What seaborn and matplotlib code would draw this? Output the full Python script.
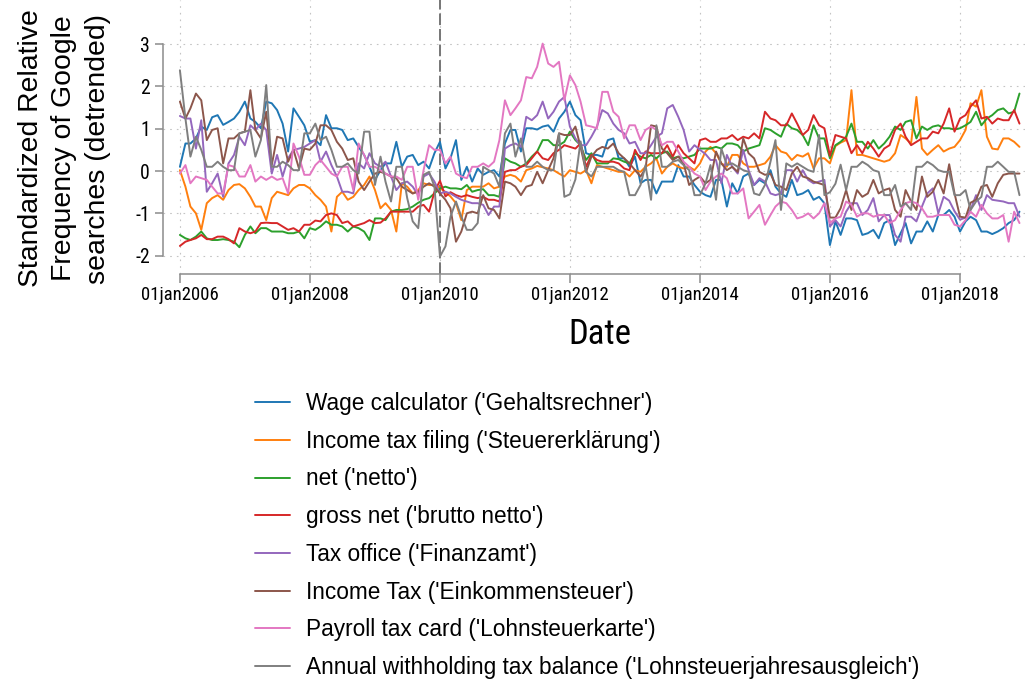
import numpy as np
import pandas as pd
import matplotlib
matplotlib.use("Agg")
import matplotlib.pyplot as plt
import matplotlib.dates as mdates
from matplotlib import font_manager
from matplotlib.font_manager import FontProperties
from matplotlib.textpath import TextPath
import seaborn as sns

# ---------------- data (monthly, Jan 2006 - Dec 2018) ----------------
start_month = "2006-01-01"

wage_calculator = [
    0.10, 0.65, 0.65, 0.77, 1.05, 0.97, 1.27, 1.32, 1.09, 1.16, 1.24, 1.40, 1.64, 1.24, 1.16, 1.01, 1.64, 1.60, 1.44, 1.12, 0.46, 1.48, 1.28, 1.08, 0.69, 0.73,
    0.61, 1.32, 1.01, 1.01, 0.97, 0.73, 0.77, 0.57, 0.38, 0.10, -0.21, 0.02, 0.18, 0.18, 0.69, 0.10, 0.34, 0.38, 0.14, 0.22, 0.06, 0.42, 0.69, 0.06, 0.30,
    0.73, -0.21, 0.10, -0.25, 0.06, -0.09, -0.02, 0.02, -0.13, 0.65, 0.97, 0.97, 0.46, 1.01, 1.01, 0.98, 1.05, 1.08, 0.93, 1.24, 1.40, 1.64, 1.32, 1.20,
    0.42, 0.38, 0.38, 0.34, 0.73, 0.77, 0.30, 0.30, 0.10, 0.34, -0.29, -0.21, -0.21, -0.53, -0.25, -0.25, -0.25, 0.14, -0.13, -0.13, -0.33, -0.49, -0.57, -0.61,
    -0.21, -0.21, -0.84, -0.29, -0.53, -0.13, -0.06, -0.33, -0.21, -0.29, 0.02, -0.37, -0.53, -0.61, -0.21, -0.57, -0.53, -0.45, -0.68, -0.61, -0.76, -1.75, -1.19, -1.51,
    -1.12, -1.12, -1.16, -1.51, -1.47, -1.39, -1.59, -1.23, -1.16, -1.75, -1.47, -1.23, -1.71, -1.43, -1.43, -1.19, -1.43, -1.04, -1.04, -0.92, -1.08, -1.43, -1.19, -1.08,
    -1.16, -1.43, -1.43, -1.49, -1.43, -1.35, -1.23, -1.16, -0.96,
]
income_tax_filing = [
    0.02, -0.37, -0.84, -1.00, -1.39, -0.76, -0.64, -0.57, -0.68, -0.45, -0.33, -0.31, -0.41, -0.61, -0.84, -0.84, -1.16, -0.64, -0.49, -0.53, -0.57, -0.41, -0.33, -0.33, -0.41, -0.57,
    -0.68, -0.84, -1.43, -0.61, -0.49, -0.68, -0.61, -0.45, -0.33, -0.13, -0.45, -0.88, -0.76, -0.92, -1.43, -0.29, -0.37, -0.53, -0.45, -0.29, -0.33, -0.33, -0.40, -0.50, -0.60,
    -0.76, -1.16, -0.45, -0.37, -0.37, -0.37, -0.29, -0.41, -0.37, -0.13, -0.09, -0.13, -0.25, 0.02, 0.06, 0.12, 0.09, 0.06, 0.02, -0.06, -0.13, 0.02, -0.02, -0.06,
    0.02, -0.29, 0.14, 0.10, 0.06, 0.02, -0.02, -0.02, -0.13, 0.02, -0.02, 0.10, 0.18, 0.30, -0.06, 0.10, 0.18, 0.10, 0.06, 0.10, 0.02, 0.18, 0.46, 0.57,
    0.42, 0.18, 0.10, 0.38, 0.38, 0.18, 0.10, 0.10, 0.14, 0.18, 0.34, 0.61, 0.46, 0.42, 0.26, 0.38, 0.34, 0.42, 0.06, 0.30, 0.30, 0.18, 0.59, 0.67,
    0.73, 1.91, 0.38, 0.38, 0.34, 0.30, 0.26, 0.22, 0.26, 0.42, 0.85, 0.77, 0.65, 1.75, 0.53, 0.38, 0.50, 0.61, 0.46, 0.53, 0.57, 0.73, 0.97, 1.60,
    1.52, 1.91, 0.81, 0.53, 0.51, 0.77, 0.77, 0.69, 0.57,
]
net = [
    -1.51, -1.59, -1.63, -1.55, -1.43, -1.59, -1.63, -1.63, -1.61, -1.63, -1.67, -1.80, -1.51, -1.31, -1.47, -1.35, -1.35, -1.43, -1.43, -1.43, -1.47, -1.47, -1.43, -1.59, -1.35, -1.39,
    -1.31, -1.19, -1.27, -1.27, -1.31, -1.43, -1.31, -1.35, -1.43, -1.63, -1.12, -1.12, -1.16, -0.96, -0.92, -0.92, -0.90, -0.84, -0.75, -0.68, -0.64, -0.53, -0.41, -0.37, -0.41,
    -0.41, -0.43, -0.33, -0.49, -0.45, -0.43, -0.57, -0.57, -0.61, 0.30, 0.22, 0.18, 0.10, 0.18, 0.34, 0.46, 0.73, 0.73, 0.61, 0.61, 0.69, 0.93, 0.73, 0.61,
    0.26, 0.42, 0.18, 0.18, 0.18, 0.30, 0.28, 0.22, 0.18, 0.42, 0.34, 0.30, 0.38, 0.30, 0.42, 0.46, 0.30, 0.34, 0.30, 0.34, 0.38, 0.53, 0.53, 0.53,
    0.57, 0.53, 0.65, 0.65, 0.61, 0.46, 0.53, 0.57, 0.61, 1.01, 0.97, 0.89, 0.81, 1.12, 1.01, 0.97, 0.85, 0.61, 1.08, 0.77, 0.77, 0.30, 0.61, 0.69,
    0.81, 1.12, 0.69, 0.69, 0.53, 0.73, 0.53, 0.65, 0.81, 1.05, 0.97, 1.16, 1.20, 0.77, 1.05, 0.97, 1.05, 1.08, 1.01, 1.01, 0.98, 1.01, 1.08, 1.16,
    1.40, 1.08, 1.24, 1.32, 1.44, 1.48, 1.36, 1.40, 1.83,
]
gross_net = [
    -1.77, -1.67, -1.63, -1.59, -1.51, -1.61, -1.61, -1.55, -1.55, -1.61, -1.71, -1.35, -1.43, -1.47, -1.43, -1.23, -1.22, -1.23, -1.23, -1.31, -1.39, -1.35, -1.43, -1.27, -1.27, -1.17,
    -1.19, -1.04, -1.00, -1.04, -1.23, -1.19, -1.31, -1.27, -1.23, -1.16, -1.23, -1.22, -1.12, -0.96, -0.96, -0.96, -0.96, -0.96, -0.84, -0.80, -0.96, -0.49, -0.23, -0.60, -0.50,
    -0.57, -0.61, -0.57, -0.61, -0.64, -0.61, -0.68, -0.68, -0.72, -0.02, 0.02, 0.02, 0.10, 0.14, 0.30, 0.46, 0.30, 0.26, 0.42, 0.50, 0.61, 0.57, 0.53, 0.65,
    0.10, 0.38, 0.26, 0.22, 0.22, 0.22, 0.18, 0.06, 0.02, 0.50, 0.26, 0.46, 0.42, 0.42, 0.42, 0.61, 0.34, 0.61, 0.42, 0.30, 0.18, 0.73, 0.77, 0.69,
    0.69, 0.77, 0.77, 0.85, 0.73, 0.81, 0.77, 0.89, 0.77, 1.40, 1.24, 1.20, 1.08, 1.08, 1.36, 1.12, 0.85, 0.97, 1.32, 1.08, 1.01, 0.36, 0.85, 0.81,
    0.77, 0.42, 0.61, 0.42, 0.69, 0.53, 0.34, 0.53, 0.61, 0.97, 1.12, 0.81, 0.61, 0.69, 0.77, 0.77, 0.93, 0.89, 1.12, 1.48, 0.93, 1.24, 1.32, 1.52,
    1.67, 1.24, 1.28, 1.12, 1.24, 1.20, 1.20, 1.44, 1.12,
]
tax_office = [
    1.30, 1.24, 1.24, 0.53, 1.20, -0.49, -0.29, -0.06, -0.61, 0.18, 0.38, 0.81, 0.61, 1.08, 0.97, 1.12, 0.97, -0.06, 0.38, -0.13, 0.30, 0.50, 0.53, 0.57, 0.65, 0.73,
    0.22, 0.46, 0.14, -0.13, -0.49, -0.49, -0.53, 0.18, 0.06, 0.42, 0.18, 0.10, 0.22, -0.13, -0.45, -0.29, -0.25, -0.37, -0.57, -0.13, -0.06, -0.25, -0.53, -0.49, -0.53,
    -0.61, -0.68, -0.72, -0.76, -0.76, -0.80, -1.04, -0.84, -0.84, 0.53, 0.61, 0.65, 0.57, 1.28, 1.20, 1.32, 1.64, 1.24, 1.40, 1.64, 1.75, 1.05, 0.77, 0.61,
    0.61, 0.81, 1.05, 1.44, 1.36, 1.12, 0.97, 0.89, 0.65, 0.69, 0.42, 0.42, 0.61, 0.81, 0.89, 1.48, 1.56, 1.28, 0.97, 0.46, 0.61, 0.50, 0.40, 0.26,
    0.26, -0.29, 0.38, 0.10, -0.06, 0.50, 0.02, -0.33, -0.17, -0.25, -0.53, -0.57, -0.53, 0.02, 0.02, -0.25, 0.02, -0.21, -0.29, -0.25, -0.21, -1.31, -1.16, -1.31,
    -0.96, -0.76, -0.76, -1.04, -0.92, -0.64, -1.19, -1.04, -1.04, -1.51, -1.67, -1.08, -1.08, -1.19, -0.84, -0.53, -0.41, -1.00, -0.61, -0.70, -0.95, -1.15, -1.10, -0.92,
    -0.57, -0.92, -0.57, -0.68, -0.70, -0.72, -0.76, -0.76, -1.08,
]
income_tax = [
    1.64, 1.24, 1.48, 1.83, 1.67, 0.73, 0.97, 1.01, 0.18, 0.77, 0.77, 0.89, 0.93, 1.91, 0.97, 0.77, 1.40, 0.14, 0.81, 0.77, 0.22, 0.50, 0.06, 0.53, 0.50, 0.65,
    1.08, 1.08, 0.97, 0.69, 0.53, 0.26, 0.30, -0.25, -0.45, -0.25, -0.06, -0.02, -0.06, -0.13, -0.17, -0.37, -0.45, -0.53, -0.49, -0.37, -0.29, -0.37, -0.53, -0.68, -0.88,
    -1.67, -1.43, -1.00, -0.96, -1.00, -0.57, -0.88, -0.92, -1.12, -0.25, -0.29, -0.37, -0.57, -0.37, -0.33, -0.02, -0.29, 0.02, 0.30, 0.89, 0.85, 0.85, 1.05, 0.57,
    -0.02, 0.34, 0.50, 0.57, 0.53, 0.65, 0.42, 0.30, 0.18, 0.02, -0.13, 0.06, 1.08, 1.05, 0.53, 0.42, 0.26, 0.34, 0.18, -0.33, -0.21, -0.13, -0.29, -0.21,
    0.46, 0.18, 0.02, 0.10, -0.02, 0.77, 0.42, 0.30, -0.02, -0.09, -0.06, -0.33, -0.37, -0.45, -0.06, 0.10, -0.13, -0.17, -0.25, -0.29, -0.33, -1.10, -1.10, -0.88,
    -0.45, -0.92, -0.45, -0.61, -0.53, -0.21, -0.53, -0.45, -0.41, -0.92, -1.08, -0.45, -0.72, -0.92, -0.13, -0.61, -0.49, -0.21, -0.53, 0.16, -0.53, -1.08, -1.10, -0.75,
    -0.68, -0.37, -0.33, -0.61, -0.29, -0.09, -0.06, -0.06, -0.06,
]
payroll_tax_card = [
    -0.06, 0.14, -0.29, -0.13, -0.17, -0.21, -0.37, -0.53, -0.53, 0.14, 0.10, -0.13, -0.13, 0.14, -0.25, -0.13, -0.21, -0.13, -0.21, -0.17, -0.53, 0.65, 0.34, -0.09, -0.09, 0.14,
    0.26, 0.10, -0.06, -0.13, 0.10, 0.10, -0.45, 0.65, 0.38, 0.10, 0.10, 0.02, -0.06, -0.13, -0.13, -0.21, 0.10, 0.10, -0.68, 0.02, 0.61, 0.50, 0.50, 0.18, 0.34,
    -0.06, -0.13, -0.17, 0.10, 0.10, 0.18, 0.10, 0.22, 0.73, 1.67, 1.32, 1.48, 1.67, 2.22, 2.19, 2.46, 3.01, 2.54, 2.46, 2.58, 1.67, 2.26, 2.03, 1.64,
    1.08, 1.05, 1.01, 1.87, 1.87, 1.40, 1.28, 0.77, 1.08, 1.08, 0.73, 0.97, 1.05, 0.97, 0.61, 0.69, 0.69, 0.46, 0.22, 0.10, -0.06, -0.13, -0.45, -0.25,
    -0.13, -0.06, -0.17, -0.53, -0.53, -0.41, -1.12, -0.96, -0.80, -1.27, -1.04, -0.84, -0.72, -0.76, -0.92, -1.12, -1.08, -1.00, -1.12, -1.00, -0.76, -1.23, -1.12, -1.08,
    -0.72, -0.80, -1.08, -1.00, -1.00, -1.08, -1.04, -1.04, -1.23, -1.16, -0.92, -0.76, -0.72, -0.76, -0.88, -1.08, -1.08, -1.04, -1.04, -1.04, -1.27, -1.31, -1.16, -0.96,
    -1.08, -0.80, -1.00, -1.12, -1.12, -1.04, -1.67, -0.96, -1.23,
]
annual_withholding = [
    2.38, 1.24, 0.34, 0.81, 0.50, 0.10, 0.10, 0.22, 0.10, 0.02, 0.02, 0.89, 0.93, 0.97, 0.34, 0.73, 2.03, 0.10, 0.10, 0.22, 0.14, 0.02, 0.02, 0.89, 0.89, 1.12,
    0.73, 0.81, 0.50, 0.10, 0.10, 0.18, 0.02, -0.06, 0.93, 0.93, -0.33, 0.34, -0.25, -0.72, 0.10, 0.10, -0.64, -1.19, -1.35, -0.09, -0.02, -0.37, -2.02, -1.78, -1.08,
    -0.72, -1.08, -1.39, -1.39, -1.23, 0.10, 0.02, -0.06, -0.37, 0.89, 1.12, 0.34, 0.77, 0.10, 0.10, 0.22, 0.10, 0.02, 0.02, 0.89, -0.61, -0.55, -0.20, 0.70,
    -0.02, -0.13, 0.10, 0.10, 0.10, 0.10, 0.02, -0.02, -0.57, -0.57, -0.33, 0.14, -0.68, 1.08, 0.10, 0.10, 0.22, 0.26, 0.14, 0.02, -0.57, -0.57, -0.29, 0.14,
    -0.68, 0.53, 0.14, 0.18, 0.10, 0.02, -0.02, -0.53, -0.57, -0.33, 0.22, 0.73, -0.92, 0.18, 0.10, 0.18, 0.10, 0.02, -0.02, 0.85, -0.57, -0.50, -0.30, 0.15,
    -0.45, 0.10, 0.10, 0.22, 0.14, 0.02, -0.02, -0.57, -0.57, -0.33, -0.84, -0.76, -0.92, 0.10, 0.10, 0.22, 0.14, 0.02, -0.02, -0.02, -0.57, -0.57, -0.45, -0.92,
    -0.72, -0.61, 0.10, 0.10, 0.22, 0.10, -0.02, -0.02, -0.57,
]

series_labels = [
    "Wage calculator ('Gehaltsrechner')",
    "Income tax filing ('Steuererklärung')",
    "net ('netto')",
    "gross net ('brutto netto')",
    "Tax office ('Finanzamt')",
    "Income Tax ('Einkommensteuer')",
    "Payroll tax card ('Lohnsteuerkarte')",
    "Annual withholding tax balance ('Lohnsteuerjahresausgleich')",
]
series_values = [wage_calculator, income_tax_filing, net, gross_net,
                 tax_office, income_tax, payroll_tax_card, annual_withholding]

tick_dates = ["2006-01-01", "2008-01-01", "2010-01-01", "2012-01-01",
              "2014-01-01", "2016-01-01", "2018-01-01"]
tick_labels = ["01jan2006", "01jan2008", "01jan2010", "01jan2012",
               "01jan2014", "01jan2016", "01jan2018"]
y_ticks = [-2, -1, 0, 1, 2, 3]
reform_date = "2010-01-01"
y_title = "Standardized Relative\nFrequency of Google\nsearches (detrended)"
x_title = "Date"

# ---------------- styling ----------------
sns.set_style("ticks")
avail = {f.name for f in font_manager.fontManager.ttflist}
REG = "Liberation Sans" if "Liberation Sans" in avail else "DejaVu Sans"
NARROW = REG
for cand in ["Liberation Sans Narrow", "Arial Narrow", "Roboto Condensed",
             "Open Sans Condensed"]:
    if cand in avail:
        NARROW = cand
        break
plt.rcParams["font.family"] = [REG, "DejaVu Sans"]
for k in ["text.color", "axes.labelcolor", "xtick.labelcolor", "ytick.labelcolor"]:
    plt.rcParams[k] = "black"


def fit_size(text, family, target_px, dpi=100):
    """font size (pt) whose ink width equals target_px"""
    tp = TextPath((0, 0), text, size=10, prop=FontProperties(family=family))
    w = tp.get_extents().width * dpi / 72.0
    return 10 * target_px / w


tick_fs = fit_size("01jan2006", NARROW, 76)
date_fs = fit_size("Date", NARROW, 59)

palette = sns.color_palette("tab10", 8)
axis_grey = "#8c8c8c"

# long-form table
frames = []
for lab, vals in zip(series_labels, series_values):
    d = pd.date_range(start_month, periods=len(vals), freq="MS")
    frames.append(pd.DataFrame({"Date": d, "value": vals, "series": lab}))
df = pd.concat(frames, ignore_index=True)

fig = plt.figure(figsize=(10.25, 6.86), dpi=100)
W, H = 1025, 686
ax = fig.add_axes([163 / W, 1 - 274 / H, 1 - 163 / W, 274 / H])

sns.lineplot(data=df, x="Date", y="value", hue="series", hue_order=series_labels,
             palette=palette, linewidth=1.4, estimator=None, ax=ax, zorder=3)

ax.axvline(pd.Timestamp(reform_date), color="#767676", linewidth=1.4,
           linestyle=(0, (6, 2)), zorder=2)

ax.set_ylim(-2.433, 4.04)
ax.set_xlim(pd.Timestamp("2005-09-28"), pd.Timestamp("2019-01-01"))
ax.set_yticks(y_ticks)
ax.set_yticklabels([str(t) for t in y_ticks])
ax.set_xticks([pd.Timestamp(t) for t in tick_dates])
ax.set_xticklabels(tick_labels)

ax.grid(True, color="#c4c4c4", linestyle=(0, (1.5, 4.5)), linewidth=0.8, zorder=0)
for s in ["top", "right"]:
    ax.spines[s].set_visible(False)
for s in ["left", "bottom"]:
    ax.spines[s].set_color(axis_grey)
    ax.spines[s].set_linewidth(1.1)
ax.spines["left"].set_bounds(-2, 3)
ax.spines["bottom"].set_bounds(mdates.date2num(pd.Timestamp(tick_dates[0])),
                               mdates.date2num(pd.Timestamp(tick_dates[-1])))

ax.tick_params(axis="y", length=6, width=1.1, color=axis_grey, pad=3.5,
               labelsize=tick_fs * 1.05, labelcolor="black")
ax.tick_params(axis="x", length=6.5, width=1.1, color=axis_grey, pad=2.5,
               labelsize=tick_fs, labelcolor="black")
for lab in ax.get_xticklabels() + ax.get_yticklabels():
    lab.set_family([NARROW, "DejaVu Sans"])

ax.set_xlabel(x_title, fontsize=date_fs, family=[NARROW, "DejaVu Sans"],
              color="black")
ax.xaxis.set_label_coords((600 - 163) / (W - 163), -0.16)
ax.set_ylabel(y_title, fontsize=20.4, linespacing=1.38, color="black")
ax.yaxis.set_label_coords(-0.0603, (274 - 148.5) / 274)

handles, labels = ax.get_legend_handles_labels()
leg = ax.legend(handles, labels, loc="upper left",
                bbox_to_anchor=(255 / W, 1 - 392 / H),
                bbox_transform=fig.transFigure, frameon=False, fontsize=16.3,
                handlelength=1.55, handletextpad=0.7, labelspacing=0.65,
                borderpad=0, borderaxespad=0)
for h in leg.get_lines():
    h.set_linewidth(1.4)
for t in leg.get_texts():
    t.set_color("black")

fig.savefig("out.png", dpi=100)
